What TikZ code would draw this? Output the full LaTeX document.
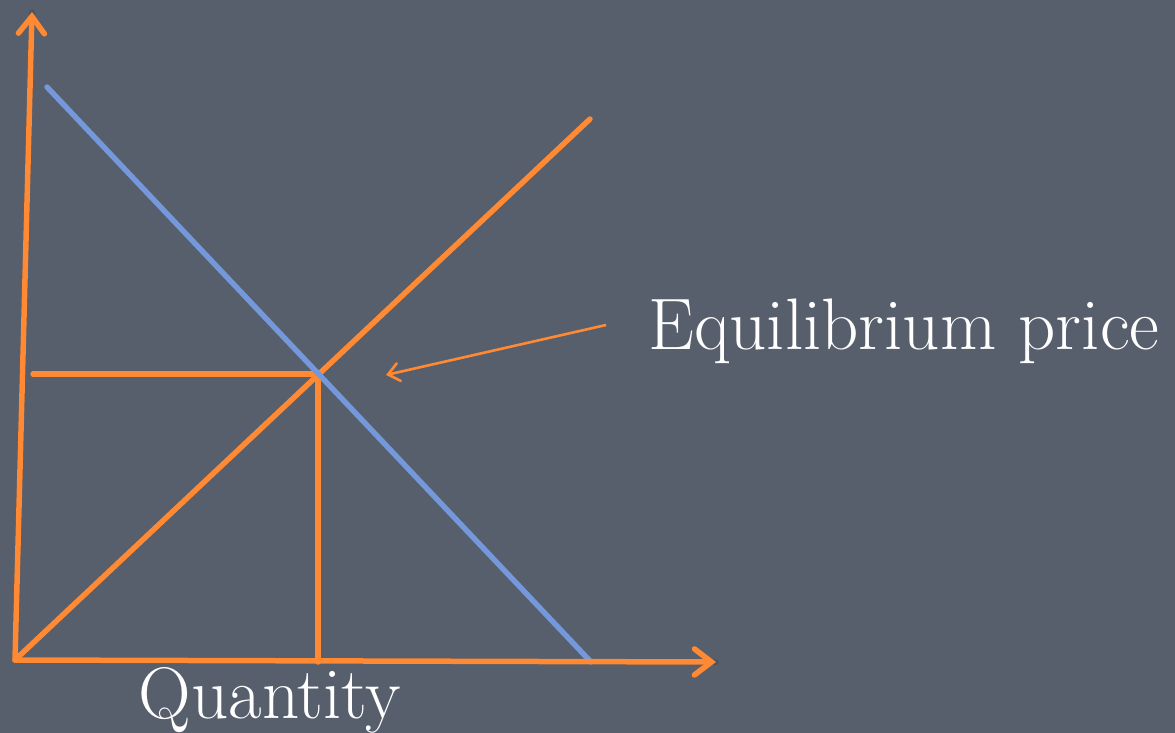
\documentclass[tikz,border=0pt]{standalone}
\usetikzlibrary{arrows.meta}
\definecolor{bg}{HTML}{575F6C}
\definecolor{org}{HTML}{FF8A33}
\definecolor{blu}{HTML}{7498DA}
\definecolor{shd}{HTML}{454B55}
\begin{document}
\begin{tikzpicture}[x=1pt,y=-1pt,
  curve/.style={line width=5.5pt,line cap=round},
  axisline/.style={curve,draw=org,-{Straight Barb[length=17pt,width=26pt,line width=5.5pt,line cap=round]}},
  pointer/.style={line width=2.6pt,draw=org,-{Straight Barb[length=11pt,width=18pt,line width=2.6pt,line cap=round]}},
  lbl/.style={text=white,inner sep=0pt,font=\fontsize{73}{80}\selectfont}]
\fill[bg] (0,0) rectangle (1175,733);
\useasboundingbox (0,0) rectangle (1175,733);
\coordinate (O) at (15,660);
\coordinate (Ytop) at (32,12);
\coordinate (Xend) at (716,662);
\coordinate (D1) at (47,87);
\coordinate (D2) at (591,662);
\coordinate (S2) at (590,119);
\coordinate (E) at (318,374);
\coordinate (Hl) at (33,374);
\coordinate (Eb) at (318,662);
\coordinate (P1) at (606,325);
\coordinate (P2) at (386,375);
% shadows
\begin{scope}[shift={(2,3)},shd,opacity=0.6]
\draw[curve] (O) -- (Ytop);
\draw[curve] (O) -- (Xend);
\draw[curve] (D1) -- (D2);
\draw[curve] (O) -- (S2);
\draw[curve] (Hl) -- (E) -- (Eb);
\end{scope}
\draw[curve,org] (Hl) -- (E);
\draw[curve,org] (E) -- (Eb);
\draw[curve,org] (O) -- (S2);
\draw[curve,blu] (D1) -- (D2);
\draw[axisline] (O) -- (Ytop);
\draw[axisline] (O) -- (Xend);
\draw[pointer] (P1) -- (P2);
\node[lbl,anchor=west] (eq) at (648,331) {Equilibrium price};
\node[lbl,anchor=base] (qty) at (270,718) {Quantity};
\end{tikzpicture}
\end{document}
